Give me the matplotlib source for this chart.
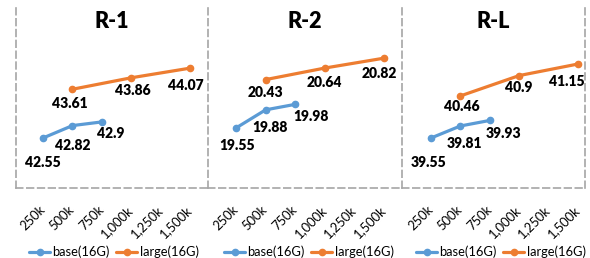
import matplotlib
matplotlib.use("Agg")
import matplotlib.pyplot as plt
import matplotlib.transforms as mtransforms

plt.rcParams['font.family'] = ['Lato', 'DejaVu Sans']

# data
steps = ["250k", "500k", "750k", "1,000k", "1,250k", "1,500k"]
base_idx = [0, 1, 2]      # 250k, 500k, 750k
large_idx = [1, 3, 5]     # 500k, 1,000k, 1,500k
titles = ["R-1", "R-2", "R-L"]
base_r1 = [42.55, 42.82, 42.9]
large_r1 = [43.61, 43.86, 44.07]
base_r2 = [19.55, 19.88, 19.98]
large_r2 = [20.43, 20.64, 20.82]
base_rl = [39.55, 39.81, 39.93]
large_rl = [40.46, 40.9, 41.15]

BLUE = "#5B9BD5"
ORANGE = "#ED7D31"
GRID = "#A6A6A6"
W, H = 590, 258

fig = plt.figure(figsize=(W / 100, H / 100), dpi=100)

# panel layout in pixels: left, right, top, bottom, first category x, category step, ylim
panels = [
    (16, 208, 8, 188, 43, 29.5, (41.463, 45.376)),
    (208, 402, 8, 188, 236, 29.6, (18.459, 21.732)),
    (402, 585, 8, 188, 431, 29.4, (38.469, 42.361)),
]
# label offsets in pixels (base, large)
offsets = [
    ([(0, -25), (0, -20), (9, -12)], [(-3, -14), (1, -13), (-5, -17)]),
    ([(1, -18), (4, -18), (16, -12)], [(0, -13), (0, -14), (-5, -15)]),
    ([(-2, -24), (4, -18), (14, -13)], [(1, -11), (0, -12), (-11, -17)]),
]
legend_x = [114, 309, 501]
series = [(base_r1, large_r1), (base_r2, large_r2), (base_rl, large_rl)]

for i, (l, r, t, b, c0, step, ylim) in enumerate(panels):
    ax = fig.add_axes([l / W, 1 - b / H, (r - l) / W, (b - t) / H])
    ax.set_facecolor("none")
    ax.set_xlim((l - c0) / step, (r - c0) / step)
    ax.set_ylim(*ylim)
    base, large = series[i]
    lb, = ax.plot(base_idx, base, color=BLUE, lw=2.3, marker="o", ms=4.5,
                  solid_capstyle="round", label="base(16G)")
    ll, = ax.plot(large_idx, large, color=ORANGE, lw=2.3, marker="o", ms=4.5,
                  solid_capstyle="round", label="large(16G)")
    for xs, ys, offs in ((base_idx, base, offsets[i][0]), (large_idx, large, offsets[i][1])):
        for x, y, (dx, dy) in zip(xs, ys, offs):
            ax.annotate(f"{y:g}", (x, y), xytext=(dx, dy), textcoords="offset pixels",
                        ha="center", va="center", fontsize=10, fontweight="heavy",
                        color="black")
    ax.text(0.5, 1 - 14 / (b - t), titles[i], transform=ax.transAxes, ha="center",
            va="center", fontsize=15.5, fontweight="heavy", color="black")

    ax.set_yticks([])
    ax.set_xticks(range(len(steps)))
    ax.set_xticklabels(steps, rotation=45, ha="right", va="top", fontsize=9.4,
                       color="black")
    ax.tick_params(axis="x", length=0, pad=11)
    shift = mtransforms.ScaledTranslation(4 / 100, 0, fig.dpi_scale_trans)
    for lab in ax.get_xticklabels():
        lab.set_transform(lab.get_transform() + shift)

    for side in ("top", "right"):
        ax.spines[side].set_visible(False)
    for side in ("left", "bottom"):
        ax.spines[side].set_color(GRID)
        ax.spines[side].set_linestyle((0, (4, 2.5)))
        ax.spines[side].set_linewidth(1.2)
    if i == 2:
        ax.spines["right"].set_visible(True)
        ax.spines["right"].set_color(GRID)
        ax.spines["right"].set_linestyle((0, (4, 2.5)))
        ax.spines["right"].set_linewidth(1.2)

    fig.legend(handles=[lb, ll], loc="center", bbox_to_anchor=(legend_x[i] / W, 1 - 252 / H),
               ncol=2, frameon=False, fontsize=9.3, handlelength=1.6, handletextpad=0.2,
               columnspacing=0.5, borderaxespad=0, labelcolor="black")

fig.savefig("out.png", dpi=100)
